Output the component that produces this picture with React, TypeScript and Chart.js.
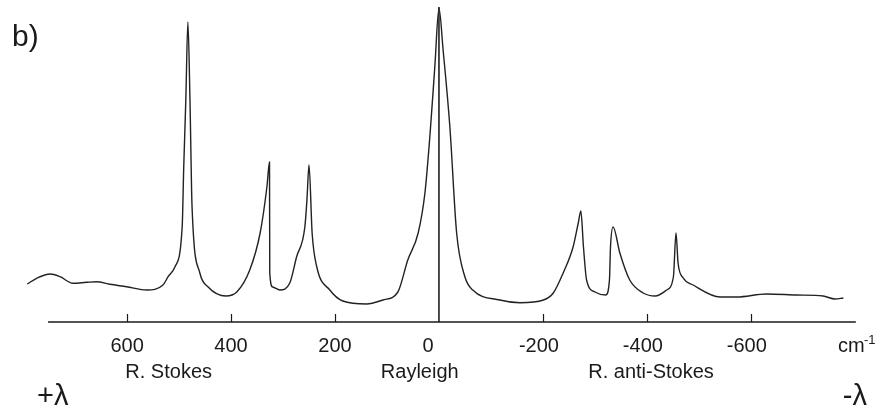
import React, { useEffect, useRef } from "react";
import { Chart, registerables } from "chart.js";

Chart.register(...registerables);

// Raman shift (cm^-1) and measured intensity (arbitrary units)
const shiftCm = [
  792, 774, 748, 729, 704, 678, 659, 633, 601, 562, 531, 521, 508, 494, 491, 487, 483, 479, 475, 460,
  444, 410, 389, 364, 344, 331, 326, 325.5, 320, 306, 287, 274, 258, 254, 250, 244, 235, 210, 185, 139,
  108, 79, 60, 40, 27, 17, 8, 0, -8, -21, -34, -50, -65, -117, -156, -201, -220, -239, -258, -268,
  -273, -278, -284, -300, -321, -328, -330, -335, -348, -367, -393, -416, -438, -451, -456, -460, -470, -489, -541, -573,
  -630, -688, -739, -762, -778,
];
const intensity = [
  38, 43.7, 48, 45.3, 38.7, 39.7, 40.3, 37.7, 35.3, 32, 37, 45.3, 55, 95, 155, 222, 300, 222, 115, 49,
  35, 26, 30, 52, 89, 135, 160, 49, 35, 32, 39, 65, 95, 122, 157, 89, 55, 32, 21, 18,
  22, 30, 62, 89, 129, 189, 255, 313.7, 272, 195, 89, 45, 32, 22, 19.3, 22, 29, 49, 75, 99,
  111, 75, 42, 30, 27, 42, 75, 95, 69, 42, 29, 26, 32, 45, 89, 59, 44, 37, 25, 25,
  28, 27, 26, 23, 24,
];
// Rayleigh marker line (x = 0)
const rayleighX = [0, 0];
const rayleighY = [0, 315];

const tickValues = [600, 400, 200, 0, -200, -400, -600];
const tickLabels = ["600", "400", "200", "0", "-200", "-400", "-600"];
const regionLabels = ["R. Stokes", "Rayleigh", "R. anti-Stokes"];
const regionCenters = [520, 37, -408];
const axisFrom = 752;
const axisTo = -802;

const FONT = "'Liberation Sans', Arial, Helvetica, sans-serif";
const INK = "#1a1a1a";

const annotationPlugin = {
  id: "ramanAxis",
  afterDatasetsDraw(chart: any) {
    const ctx = chart.ctx as CanvasRenderingContext2D;
    const xs = chart.scales.x;
    const ys = chart.scales.y;
    const y0 = ys.getPixelForValue(0);
    ctx.save();
    ctx.strokeStyle = INK;
    ctx.fillStyle = INK;
    ctx.lineWidth = 1.5;
    // axis line
    ctx.beginPath();
    ctx.moveTo(xs.getPixelForValue(axisFrom), y0);
    ctx.lineTo(xs.getPixelForValue(axisTo), y0);
    ctx.stroke();
    // tick marks (inward)
    ctx.lineWidth = 1.2;
    tickValues.forEach((v) => {
      if (v === 0) return;
      const px = Math.round(xs.getPixelForValue(v)) + 0.5;
      ctx.beginPath();
      ctx.moveTo(px, y0);
      ctx.lineTo(px, y0 - 8);
      ctx.stroke();
    });
    // tick labels
    ctx.font = `20px ${FONT}`;
    ctx.textAlign = "center";
    ctx.textBaseline = "alphabetic";
    tickValues.forEach((v, i) => {
      let px = xs.getPixelForValue(v);
      if (v === 0) px -= 11;
      else if (v < 0) px -= 4;
      ctx.fillText(tickLabels[i], px, y0 + 30);
    });
    // unit
    ctx.textAlign = "left";
    ctx.fillText("cm", 838, y0 + 30);
    ctx.font = `13px ${FONT}`;
    ctx.fillText("-1", 864, y0 + 22);
    // region labels
    ctx.font = `20px ${FONT}`;
    ctx.textAlign = "center";
    regionLabels.forEach((t, i) => {
      ctx.fillText(t, xs.getPixelForValue(regionCenters[i]), y0 + 56);
    });
    // wavelength direction
    ctx.font = `29px ${FONT}`;
    ctx.textAlign = "left";
    ctx.fillText("+λ", 37, y0 + 83);
    ctx.textAlign = "right";
    ctx.fillText("-λ", 867, y0 + 83);
    // panel label
    ctx.font = `30px ${FONT}`;
    ctx.textAlign = "left";
    ctx.fillText("b)", 12, 46);
    ctx.restore();
  },
};

export default function App() {
  const ref = useRef<HTMLCanvasElement | null>(null);
  useEffect(() => {
    if (!ref.current) return;
    const chart = new Chart(ref.current, {
      type: "line",
      data: {
        datasets: [
          {
            data: shiftCm.map((x, i) => ({ x, y: intensity[i] })),
            borderColor: "#222",
            borderWidth: 1.4,
            pointRadius: 0,
            cubicInterpolationMode: "monotone",
            fill: false,
          },
          {
            data: rayleighX.map((x, i) => ({ x, y: rayleighY[i] })),
            borderColor: "#111",
            borderWidth: 1.5,
            pointRadius: 0,
            fill: false,
          },
        ],
      },
      options: {
        responsive: false,
        maintainAspectRatio: false,
        animation: false,
        layout: { padding: { left: 20, right: 20, top: 7, bottom: 90 } },
        scales: {
          x: { type: "linear", reverse: true, min: -810, max: 806, display: false },
          y: { type: "linear", min: 0, max: 315, display: false },
        },
        plugins: { legend: { display: false }, tooltip: { enabled: false } },
      },
      plugins: [annotationPlugin],
    } as any);
    return () => chart.destroy();
  }, []);
  return (
    <div style={{ position: "absolute", left: 0, top: 0, width: 880, height: 412, background: "#fff" }}>
      <canvas ref={ref} width={880} height={412} />
    </div>
  );
}
